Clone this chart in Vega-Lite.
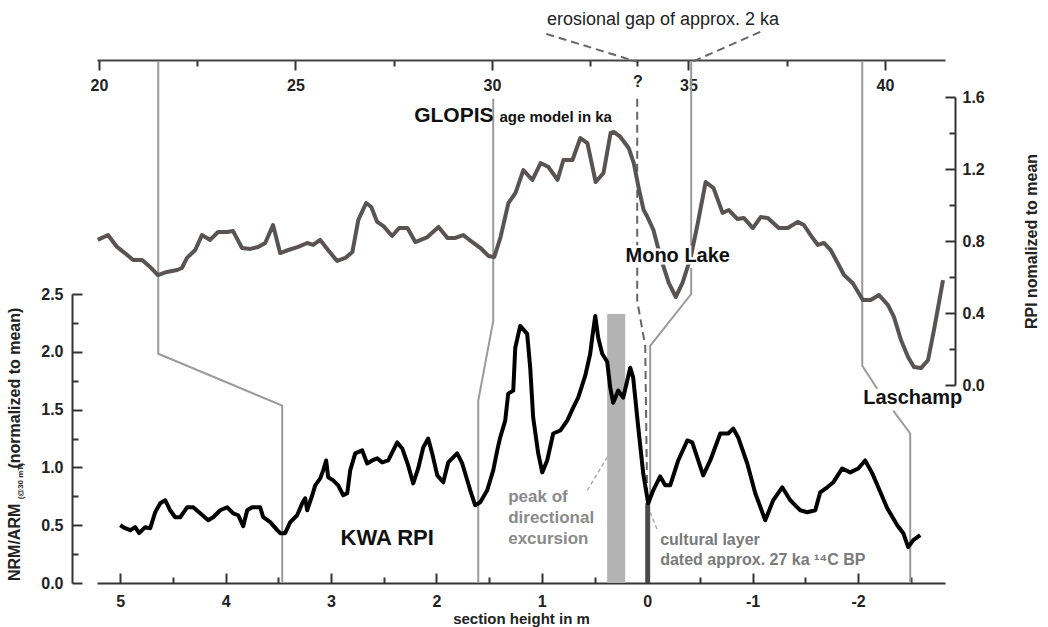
{
  "$schema": "https://vega.github.io/schema/vega-lite/v6.json",
  "width": 848,
  "height": 523,
  "autosize": {"type": "none"},
  "padding": {"left": 97, "top": 60, "right": 103, "bottom": 44},
  "background": "white",
  "config": {
    "view": {"stroke": null},
    "font": "Liberation Sans",
    "axis": {"grid": false, "labelFont": "Liberation Sans", "labelFontWeight": "bold", "labelFontSize": 16, "labelColor": "#222", "domainColor": "#333", "domainWidth": 2, "tickColor": "#333", "tickWidth": 2, "titleFont": "Liberation Sans", "titleFontWeight": "bold", "titleFontSize": 16, "titleColor": "#222", "labelOverlap": false, "labelFlush": false}
  },
  "datasets": {
    "one": [{"k": 1}],
    "kwa": [
      {"h":5.000,"v":0.500},{"h":4.953,"v":0.474},{"h":4.905,"v":0.457},{"h":4.858,"v":0.483},{"h":4.820,"v":0.431},{"h":4.763,"v":0.483},{"h":4.715,"v":0.474},{"h":4.668,"v":0.612},{"h":4.620,"v":0.690},{"h":4.573,"v":0.716},{"h":4.526,"v":0.629},{"h":4.478,"v":0.569},{"h":4.431,"v":0.569},{"h":4.364,"v":0.655},{"h":4.307,"v":0.655},{"h":4.241,"v":0.603},{"h":4.165,"v":0.543},{"h":4.118,"v":0.569},{"h":4.051,"v":0.629},{"h":3.985,"v":0.655},{"h":3.928,"v":0.603},{"h":3.880,"v":0.586},{"h":3.833,"v":0.491},{"h":3.795,"v":0.629},{"h":3.748,"v":0.655},{"h":3.672,"v":0.655},{"h":3.643,"v":0.569},{"h":3.577,"v":0.526},{"h":3.510,"v":0.457},{"h":3.482,"v":0.431},{"h":3.435,"v":0.431},{"h":3.387,"v":0.526},{"h":3.321,"v":0.586},{"h":3.273,"v":0.690},{"h":3.245,"v":0.733},{"h":3.226,"v":0.629},{"h":3.178,"v":0.759},{"h":3.150,"v":0.845},{"h":3.102,"v":0.905},{"h":3.074,"v":0.974},{"h":3.046,"v":1.060},{"h":3.027,"v":0.914},{"h":2.979,"v":0.888},{"h":2.932,"v":0.845},{"h":2.884,"v":0.759},{"h":2.846,"v":0.776},{"h":2.818,"v":0.974},{"h":2.770,"v":1.121},{"h":2.704,"v":1.147},{"h":2.657,"v":1.034},{"h":2.609,"v":1.060},{"h":2.562,"v":1.078},{"h":2.514,"v":1.043},{"h":2.457,"v":1.060},{"h":2.372,"v":1.216},{"h":2.324,"v":1.164},{"h":2.268,"v":1.017},{"h":2.220,"v":0.862},{"h":2.173,"v":0.991},{"h":2.125,"v":1.172},{"h":2.078,"v":1.250},{"h":2.040,"v":1.121},{"h":1.992,"v":0.931},{"h":1.935,"v":0.871},{"h":1.888,"v":1.043},{"h":1.803,"v":1.121},{"h":1.755,"v":1.034},{"h":1.679,"v":0.802},{"h":1.632,"v":0.672},{"h":1.584,"v":0.698},{"h":1.518,"v":0.802},{"h":1.461,"v":0.974},{"h":1.423,"v":1.147},{"h":1.395,"v":1.259},{"h":1.347,"v":1.405},{"h":1.319,"v":1.638},{"h":1.271,"v":1.664},{"h":1.252,"v":2.034},{"h":1.205,"v":2.224},{"h":1.139,"v":2.155},{"h":1.110,"v":1.862},{"h":1.082,"v":1.431},{"h":1.034,"v":1.121},{"h":0.996,"v":0.957},{"h":0.949,"v":1.060},{"h":0.892,"v":1.293},{"h":0.825,"v":1.319},{"h":0.759,"v":1.405},{"h":0.702,"v":1.517},{"h":0.655,"v":1.603},{"h":0.588,"v":1.793},{"h":0.541,"v":1.983},{"h":0.522,"v":2.121},{"h":0.493,"v":2.310},{"h":0.465,"v":2.121},{"h":0.427,"v":1.983},{"h":0.380,"v":1.914},{"h":0.351,"v":1.690},{"h":0.323,"v":1.560},{"h":0.275,"v":1.664},{"h":0.228,"v":1.603},{"h":0.190,"v":1.750},{"h":0.161,"v":1.862},{"h":0.133,"v":1.776},{"h":0.085,"v":1.345},{"h":0.038,"v":0.948},{"h":-0.009,"v":0.690},{"h":-0.057,"v":0.802},{"h":-0.123,"v":0.922},{"h":-0.171,"v":0.845},{"h":-0.218,"v":0.845},{"h":-0.294,"v":1.060},{"h":-0.380,"v":1.233},{"h":-0.427,"v":1.216},{"h":-0.531,"v":0.931},{"h":-0.598,"v":1.060},{"h":-0.693,"v":1.293},{"h":-0.769,"v":1.293},{"h":-0.816,"v":1.336},{"h":-0.863,"v":1.259},{"h":-0.949,"v":1.034},{"h":-1.025,"v":0.776},{"h":-1.120,"v":0.543},{"h":-1.195,"v":0.716},{"h":-1.281,"v":0.828},{"h":-1.357,"v":0.716},{"h":-1.452,"v":0.629},{"h":-1.518,"v":0.612},{"h":-1.594,"v":0.629},{"h":-1.641,"v":0.784},{"h":-1.708,"v":0.828},{"h":-1.765,"v":0.871},{"h":-1.850,"v":0.991},{"h":-1.926,"v":0.957},{"h":-2.002,"v":0.991},{"h":-2.068,"v":1.060},{"h":-2.135,"v":0.948},{"h":-2.192,"v":0.828},{"h":-2.277,"v":0.647},{"h":-2.372,"v":0.500},{"h":-2.429,"v":0.431},{"h":-2.476,"v":0.310},{"h":-2.524,"v":0.371},{"h":-2.590,"v":0.414}
    ],
    "glopis": [
      {"age":19.97,"rpi":0.806},{"age":20.23,"rpi":0.833},{"age":20.46,"rpi":0.767},{"age":20.66,"rpi":0.733},{"age":20.87,"rpi":0.694},{"age":21.10,"rpi":0.694},{"age":21.30,"rpi":0.656},{"age":21.50,"rpi":0.611},{"age":21.73,"rpi":0.628},{"age":21.99,"rpi":0.639},{"age":22.11,"rpi":0.650},{"age":22.24,"rpi":0.706},{"age":22.45,"rpi":0.750},{"age":22.62,"rpi":0.833},{"age":22.83,"rpi":0.806},{"age":23.03,"rpi":0.850},{"age":23.26,"rpi":0.850},{"age":23.41,"rpi":0.856},{"age":23.64,"rpi":0.761},{"age":23.85,"rpi":0.756},{"age":24.05,"rpi":0.767},{"age":24.23,"rpi":0.789},{"age":24.43,"rpi":0.889},{"age":24.61,"rpi":0.733},{"age":24.82,"rpi":0.750},{"age":25.07,"rpi":0.767},{"age":25.30,"rpi":0.789},{"age":25.45,"rpi":0.778},{"age":25.63,"rpi":0.806},{"age":25.83,"rpi":0.750},{"age":26.06,"rpi":0.689},{"age":26.27,"rpi":0.706},{"age":26.45,"rpi":0.739},{"age":26.60,"rpi":0.917},{"age":26.80,"rpi":1.011},{"age":26.93,"rpi":0.989},{"age":27.08,"rpi":0.906},{"age":27.24,"rpi":0.883},{"age":27.46,"rpi":0.828},{"age":27.64,"rpi":0.872},{"age":27.85,"rpi":0.872},{"age":28.05,"rpi":0.794},{"age":28.36,"rpi":0.822},{"age":28.64,"rpi":0.878},{"age":28.87,"rpi":0.817},{"age":29.07,"rpi":0.817},{"age":29.27,"rpi":0.833},{"age":29.40,"rpi":0.811},{"age":29.71,"rpi":0.761},{"age":29.91,"rpi":0.717},{"age":30.06,"rpi":0.711},{"age":30.22,"rpi":0.822},{"age":30.42,"rpi":1.011},{"age":30.60,"rpi":1.067},{"age":30.80,"rpi":1.194},{"age":31.03,"rpi":1.139},{"age":31.24,"rpi":1.233},{"age":31.44,"rpi":1.211},{"age":31.67,"rpi":1.139},{"age":31.82,"rpi":1.250},{"age":32.05,"rpi":1.250},{"age":32.25,"rpi":1.372},{"age":32.43,"rpi":1.344},{"age":32.64,"rpi":1.128},{"age":32.84,"rpi":1.178},{"age":33.02,"rpi":1.400},{"age":33.10,"rpi":1.406},{"age":33.27,"rpi":1.378},{"age":33.48,"rpi":1.317},{"age":33.61,"rpi":1.233},{"age":33.73,"rpi":1.100},{"age":33.86,"rpi":0.972},{"age":33.96,"rpi":0.933},{"age":34.11,"rpi":0.861},{"age":34.29,"rpi":0.711},{"age":34.50,"rpi":0.567},{"age":34.68,"rpi":0.489},{"age":34.85,"rpi":0.567},{"age":35.06,"rpi":0.711},{"age":35.24,"rpi":0.900},{"age":35.44,"rpi":1.128},{"age":35.64,"rpi":1.094},{"age":35.87,"rpi":0.956},{"age":36.03,"rpi":0.972},{"age":36.25,"rpi":0.922},{"age":36.41,"rpi":0.928},{"age":36.64,"rpi":0.872},{"age":36.84,"rpi":0.933},{"age":37.02,"rpi":0.928},{"age":37.30,"rpi":0.872},{"age":37.53,"rpi":0.872},{"age":37.78,"rpi":0.906},{"age":37.94,"rpi":0.889},{"age":38.11,"rpi":0.833},{"age":38.29,"rpi":0.778},{"age":38.45,"rpi":0.789},{"age":38.62,"rpi":0.750},{"age":38.80,"rpi":0.678},{"age":38.96,"rpi":0.611},{"age":39.18,"rpi":0.567},{"age":39.44,"rpi":0.472},{"age":39.64,"rpi":0.472},{"age":39.85,"rpi":0.500},{"age":40.08,"rpi":0.444},{"age":40.23,"rpi":0.378},{"age":40.41,"rpi":0.250},{"age":40.59,"rpi":0.156},{"age":40.74,"rpi":0.100},{"age":40.92,"rpi":0.094},{"age":41.10,"rpi":0.139},{"age":41.25,"rpi":0.306},{"age":41.48,"rpi":0.583}
    ],
    "ties": [
      {"id":"t1","ord":1,"h":4.639,"v":4.509},{"id":"t1","ord":2,"h":4.639,"v":1.983},{"id":"t1","ord":3,"h":3.463,"v":1.534},{"id":"t1","ord":4,"h":3.463,"v":0},
      {"id":"t2","ord":1,"h":1.461,"v":4.19},{"id":"t2","ord":2,"h":1.461,"v":2.267},{"id":"t2","ord":3,"h":1.603,"v":1.578},{"id":"t2","ord":4,"h":1.603,"v":0},
      {"id":"t3a","ord":1,"h":-0.417,"v":4.509},{"id":"t3a","ord":2,"h":-0.417,"v":2.897},
      {"id":"t3b","ord":1,"h":-0.417,"v":2.724},{"id":"t3b","ord":2,"h":-0.417,"v":2.5},{"id":"t3b","ord":3,"h":-0.028,"v":2.052},{"id":"t3b","ord":4,"h":-0.028,"v":0.69},
      {"id":"t4a","ord":1,"h":-2.04,"v":4.509},{"id":"t4a","ord":2,"h":-2.04,"v":1.879},{"id":"t4a","ord":3,"h":-2.182,"v":1.681},
      {"id":"t4b","ord":1,"h":-2.334,"v":1.491},{"id":"t4b","ord":2,"h":-2.495,"v":1.293},{"id":"t4b","ord":3,"h":-2.495,"v":0}
    ],
    "gap": [
      {"id":"g0","ord":1,"h":0.095,"v":4.19},{"id":"g0","ord":2,"h":0.095,"v":2.44},{"id":"g0","ord":3,"h":0.019,"v":2.052},{"id":"g0","ord":4,"h":0.0,"v":0.69},
      {"id":"g1","ord":1,"h":0.958,"v":4.75},{"id":"g1","ord":2,"h":0.095,"v":4.509},
      {"id":"g2","ord":1,"h":-1.072,"v":4.767},{"id":"g2","ord":2,"h":-0.427,"v":4.509}
    ],
    "pointers": [
      {"id":"p1","ord":1,"h":0.569,"v":0.802},{"id":"p1","ord":2,"h":0.38,"v":1.086},
      {"id":"p2","ord":1,"h":-0.028,"v":0.612},{"id":"p2","ord":2,"h":-0.105,"v":0.44}
    ]
  },
  "layer": [
    {
      "layer": [
        {
          "data": {"name": "one"},
          "mark": {"type": "rect", "color": "#b3b3b3"},
          "encoding": {
            "x": {"datum": 0.38, "type": "quantitative", "scale": {"domain": [5.22, -2.825], "nice": false, "zero": false},
              "axis": {"orient": "bottom", "values": [5,4.5,4,3.5,3,2.5,2,1.5,1,0.5,0,-0.5,-1,-1.5,-2,-2.5], "labelExpr": "datum.value % 1 == 0 ? '' + datum.value : ''", "tickSize": {"condition": {"test": "datum.value % 1 != 0", "value": -6}, "value": -10}, "labelPadding": 20, "title": "section height in m", "titleFontSize": 15, "titlePadding": -2}},
            "x2": {"datum": 0.209},
            "y": {"datum": 2.328, "type": "quantitative", "scale": {"domain": [0, 2.5], "range": [523, 234], "nice": false, "zero": false},
              "axis": {"orient": "left", "offset": 25, "values": [0,0.25,0.5,0.75,1,1.25,1.5,1.75,2,2.25,2.5], "labelExpr": "(datum.value*2) % 1 == 0 ? format(datum.value, '.1f') : ''", "tickSize": {"condition": {"test": "(datum.value*2) % 1 != 0", "value": -6}, "value": -10}, "labelPadding": 19, "title": null}},
            "y2": {"datum": 0}
          }
        },
        {
          "data": {"name": "one"},
          "mark": {"type": "rect", "color": "#4a4a4a"},
          "encoding": {
            "x": {"datum": 0.019, "type": "quantitative"},
            "x2": {"datum": -0.028},
            "y": {"datum": 0.69, "type": "quantitative"},
            "y2": {"datum": 0}
          }
        },
        {
          "data": {"name": "ties"},
          "mark": {"type": "line", "color": "#9a9a9a", "strokeWidth": 2},
          "encoding": {
            "x": {"field": "h", "type": "quantitative"},
            "y": {"field": "v", "type": "quantitative"},
            "detail": {"field": "id"},
            "order": {"field": "ord"}
          }
        },
        {
          "data": {"name": "gap"},
          "mark": {"type": "line", "color": "#666", "strokeWidth": 2, "strokeDash": [8, 5]},
          "encoding": {
            "x": {"field": "h", "type": "quantitative"},
            "y": {"field": "v", "type": "quantitative"},
            "detail": {"field": "id"},
            "order": {"field": "ord"}
          }
        },
        {
          "data": {"name": "pointers"},
          "mark": {"type": "line", "color": "#aaa", "strokeWidth": 1.5, "strokeDash": [4, 3]},
          "encoding": {
            "x": {"field": "h", "type": "quantitative"},
            "y": {"field": "v", "type": "quantitative"},
            "detail": {"field": "id"},
            "order": {"field": "ord"}
          }
        },
        {
          "data": {"name": "kwa"},
          "mark": {"type": "line", "color": "#000", "strokeWidth": 4, "strokeJoin": "round"},
          "encoding": {
            "x": {"field": "h", "type": "quantitative"},
            "y": {"field": "v", "type": "quantitative"}
          }
        },
        {
          "data": {"name": "one"},
          "mark": {"type": "text", "text": "KWA RPI", "font": "Liberation Sans", "fontWeight": "bold", "fontSize": 22, "color": "#111", "align": "center", "baseline": "middle"},
          "encoding": {"x": {"datum": 2.467, "type": "quantitative"}, "y": {"datum": 0.388, "type": "quantitative"}}
        },
        {
          "data": {"name": "one"},
          "mark": {"type": "text", "text": ["peak of", "directional", "excursion"], "lineHeight": 21, "font": "Liberation Sans", "fontWeight": "bold", "fontSize": 17, "color": "#8a8a8a", "align": "left", "baseline": "top"},
          "encoding": {"x": {"datum": 1.319, "type": "quantitative"}, "y": {"datum": 0.81, "type": "quantitative"}}
        },
        {
          "data": {"name": "one"},
          "mark": {"type": "text", "text": ["cultural layer", "dated approx. 27 ka ¹⁴C BP"], "lineHeight": 20, "font": "Liberation Sans", "fontWeight": "bold", "fontSize": 16, "color": "#7a7a7a", "align": "left", "baseline": "top"},
          "encoding": {"x": {"datum": -0.123, "type": "quantitative"}, "y": {"datum": 0.44, "type": "quantitative"}}
        },
        {
          "data": {"name": "one"},
          "mark": {"type": "text", "text": "erosional gap of approx. 2 ka", "font": "Liberation Sans", "fontWeight": "normal", "fontSize": 18, "color": "#222", "align": "center", "baseline": "middle"},
          "encoding": {"x": {"datum": -0.15, "type": "quantitative"}, "y": {"datum": 4.87, "type": "quantitative"}}
        },
        {
          "data": {"name": "one"},
          "mark": {"type": "text", "text": "NRM/ARM", "angle": 270, "font": "Liberation Sans", "fontWeight": "bold", "fontSize": 16, "color": "#222", "align": "left", "baseline": "middle"},
          "encoding": {"x": {"datum": 5.996, "type": "quantitative"}, "y": {"datum": 0.017, "type": "quantitative"}}
        },
        {
          "data": {"name": "one"},
          "mark": {"type": "text", "text": "(@30 mT)", "angle": 270, "font": "Liberation Sans", "fontWeight": "bold", "fontSize": 8, "color": "#222", "align": "left", "baseline": "middle"},
          "encoding": {"x": {"datum": 5.94, "type": "quantitative"}, "y": {"datum": 0.724, "type": "quantitative"}}
        },
        {
          "data": {"name": "one"},
          "mark": {"type": "text", "text": "(normalized to mean)", "angle": 270, "font": "Liberation Sans", "fontWeight": "bold", "fontSize": 16, "color": "#222", "align": "left", "baseline": "middle"},
          "encoding": {"x": {"datum": 5.996, "type": "quantitative"}, "y": {"datum": 0.99, "type": "quantitative"}}
        }
      ]
    },
    {
      "layer": [
        {
          "data": {"name": "glopis"},
          "mark": {"type": "line", "color": "#5b5353", "strokeWidth": 4, "strokeJoin": "round"},
          "encoding": {
            "x": {"field": "age", "type": "quantitative", "scale": {"domain": [19.95, 41.53], "nice": false, "zero": false},
              "axis": {"orient": "top", "values": [20,22.5,25,27.5,30,32.5,33.7,35,37.5,40], "labelExpr": "datum.value == 33.7 ? '?' : (datum.value % 5 == 0 ? '' + datum.value : '')", "tickSize": {"condition": {"test": "datum.value % 5 != 0", "value": -6}, "value": -10}, "labelPadding": -15, "labelBaseline": "middle", "title": null, "domainColor": "#444"}},
            "y": {"field": "rpi", "type": "quantitative", "scale": {"domain": [0, 1.6], "range": [325, 37], "nice": false, "zero": false},
              "axis": {"orient": "right", "offset": 10, "values": [0,0.2,0.4,0.6,0.8,1,1.2,1.4,1.6], "labelExpr": "round(datum.value*10) % 4 == 0 ? format(datum.value, '.1f') : ''", "tickSize": {"condition": {"test": "round(datum.value*10) % 4 != 0", "value": -6}, "value": -10}, "labelPadding": 17, "title": "RPI nomalized to mean", "titleAngle": 270, "titlePadding": 55}}
          }
        },
        {
          "data": {"name": "one"},
          "mark": {"type": "text", "text": "Mono Lake", "font": "Liberation Sans", "fontWeight": "bold", "fontSize": 20, "color": "white", "stroke": "white", "strokeWidth": 5, "align": "left", "baseline": "alphabetic"},
          "encoding": {"x": {"datum": 33.4, "type": "quantitative"}, "y": {"datum": 0.683, "type": "quantitative"}}
        },
        {
          "data": {"name": "one"},
          "mark": {"type": "text", "text": "Mono Lake", "font": "Liberation Sans", "fontWeight": "bold", "fontSize": 20, "color": "#111", "align": "left", "baseline": "alphabetic"},
          "encoding": {"x": {"datum": 33.4, "type": "quantitative"}, "y": {"datum": 0.683, "type": "quantitative"}}
        },
        {
          "data": {"name": "one"},
          "mark": {"type": "text", "text": "Laschamp", "font": "Liberation Sans", "fontWeight": "bold", "fontSize": 20, "color": "#111", "align": "left", "baseline": "alphabetic"},
          "encoding": {"x": {"datum": 39.45, "type": "quantitative"}, "y": {"datum": -0.105, "type": "quantitative"}}
        },
        {
          "data": {"name": "one"},
          "mark": {"type": "text", "text": "GLOPIS", "font": "Liberation Sans", "fontWeight": "bold", "fontSize": 21, "color": "#111", "align": "right", "baseline": "alphabetic"},
          "encoding": {"x": {"datum": 30.04, "type": "quantitative"}, "y": {"datum": 1.461, "type": "quantitative"}}
        },
        {
          "data": {"name": "one"},
          "mark": {"type": "text", "text": "age model in ka", "font": "Liberation Sans", "fontWeight": "bold", "fontSize": 15, "color": "#111", "align": "left", "baseline": "alphabetic"},
          "encoding": {"x": {"datum": 30.19, "type": "quantitative"}, "y": {"datum": 1.461, "type": "quantitative"}}
        }
      ]
    }
  ],
  "resolve": {"scale": {"x": "independent", "y": "independent"}}
}
